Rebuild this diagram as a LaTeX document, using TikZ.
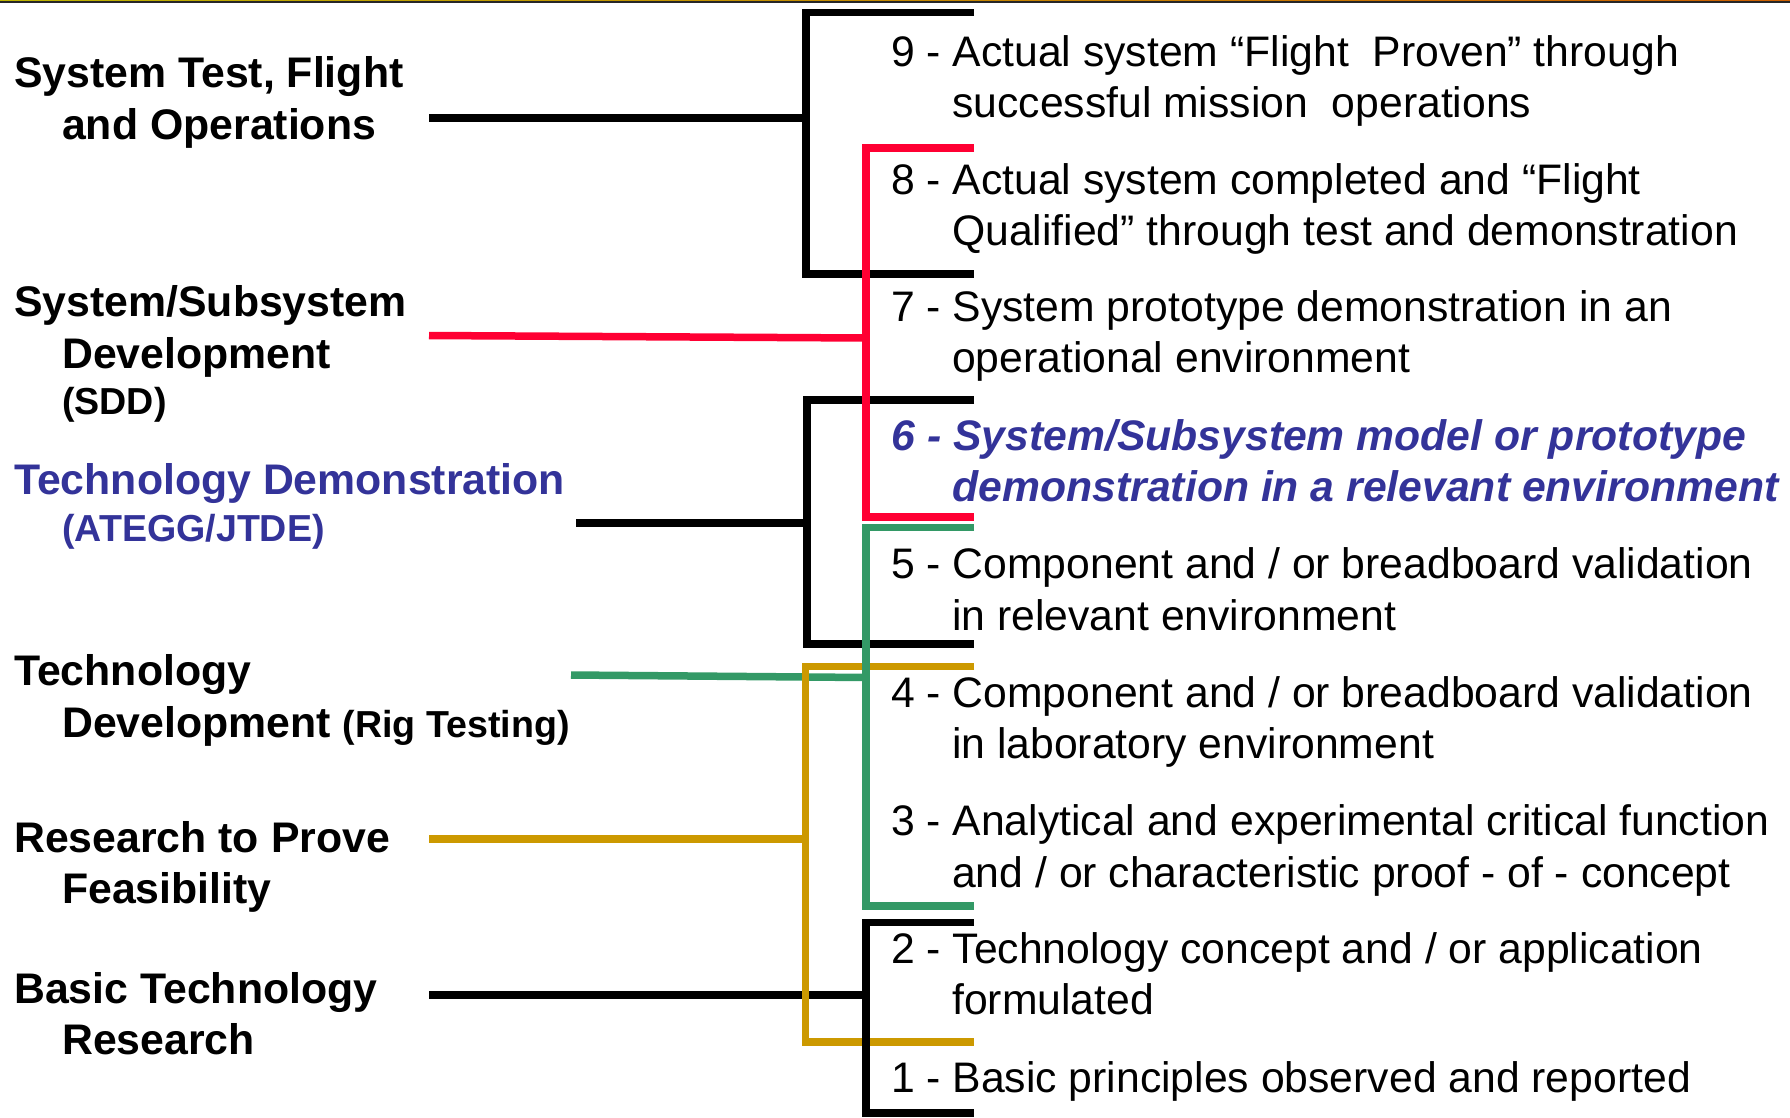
\documentclass[tikz,border=0pt]{standalone}
\usepackage{fontspec}
\setmainfont{Liberation Sans}
\definecolor{trlred}{RGB}{255,0,51}
\definecolor{trlgreen}{RGB}{51,153,102}
\definecolor{trlyellow}{RGB}{204,153,0}
\definecolor{trlblue}{RGB}{51,51,153}
\definecolor{topolive}{RGB}{190,180,0}
\definecolor{toporange}{RGB}{205,95,0}
\begin{document}
\begin{tikzpicture}[x=1pt,y=-1pt,
  lvl/.style={anchor=base west, inner sep=0pt, font=\fontsize{42.7}{50}\selectfont},
  lvlsix/.style={lvl, text=trlblue, font=\fontsize{42.7}{50}\selectfont\bfseries\itshape},
  lab/.style={anchor=base west, inner sep=0pt, font=\fontsize{42.8}{50}\selectfont\bfseries},
  labsmall/.style={lab, font=\fontsize{37.6}{44}\selectfont\bfseries},
  brk/.style={line width=7.5pt, line join=miter, line cap=butt}]
\useasboundingbox (0,0) rectangle (1790,1117);
% top border
\shade[left color=topolive, right color=toporange] (0,0) rectangle (1790,1.4);
\fill[black!85] (0,1.4) rectangle (1790,2.8);

% ---- left labels ----
\node[lab] (l9a) at (14,87.5) {System Test, Flight};
\node[lab] (l9b) at (62,139.3) {and Operations};
\node[lab] (l7a) at (14,316) {System/Subsystem};
\node[lab] (l7b) at (62,368) {Development};
\node[labsmall] (l7c) at (62,414) {(SDD)};
\node[lab, text=trlblue] (l6a) at (14,494.6) {Technology Demonstration};
\node[labsmall, text=trlblue] (l6b) at (62,541) {(ATEGG/JTDE)};
\node[lab] (l4a) at (14,685) {Technology};
\node[lab] (l4b) at (62,737) {Development {\fontsize{37.6}{44}\selectfont(Rig Testing)}};
\node[lab] (l3a) at (14,852.8) {Research to Prove};
\node[lab] (l3b) at (62,903.6) {Feasibility};
\node[lab] (l1a) at (14,1003.7) {Basic Technology};
\node[lab] (l1b) at (62,1054) {Research};

% ---- right levels ----
\node[lvl] (t9a) at (890.8,66) {9 - Actual system “Flight~~Proven” through};
\node[lvl] (t9b) at (952,117) {successful mission~~operations};
\node[lvl] (t8a) at (890.8,194.6) {8 - Actual system completed and “Flight};
\node[lvl] (t8b) at (952,245.7) {Qualified” through test and demonstration};
\node[lvl] (t7a) at (890.8,321) {7 - System prototype demonstration in an};
\node[lvl] (t7b) at (952,372.5) {operational environment};
\node[lvlsix] (t6a) at (891.5,450.7) {6 - System/Subsystem model or prototype};
\node[lvlsix] (t6b) at (952.5,501.8) {demonstration in a relevant environment};
\node[lvl] (t5a) at (890.8,578.6) {5 - Component and / or breadboard validation};
\node[lvl] (t5b) at (952,630.2) {in relevant environment};
\node[lvl] (t4a) at (890.8,707.4) {4 - Component and / or breadboard validation};
\node[lvl] (t4b) at (952,758.2) {in laboratory environment};
\node[lvl] (t3a) at (890.8,835.5) {3 - Analytical and experimental critical function};
\node[lvl] (t3b) at (952,887) {and / or characteristic proof - of - concept};
\node[lvl] (t2a) at (890.8,963.2) {2 - Technology concept and / or application};
\node[lvl] (t2b) at (952,1014.7) {formulated};
\node[lvl] (t1a) at (890.8,1092) {1 - Basic principles observed and reported};

% ---- bracket coordinates ----
\coordinate (aT) at (974,12.5);  \coordinate (aTL) at (806,12.5);
\coordinate (aBL) at (806,274);  \coordinate (aB) at (974,274);
\coordinate (aS) at (429,118);

\coordinate (bT) at (974,400);   \coordinate (bTL) at (807,400);
\coordinate (bBL) at (807,644);  \coordinate (bB) at (974,644);
\coordinate (bS) at (576,523);

\coordinate (rT) at (974,148);   \coordinate (rTL) at (866,148);
\coordinate (rBL) at (866,517);  \coordinate (rB) at (974,517);
\coordinate (rS) at (429,335.5); \coordinate (rE) at (866,338);

\coordinate (gT) at (974,527.5); \coordinate (gTL) at (866,527.5);
\coordinate (gBL) at (866,906);  \coordinate (gB) at (974,906);
\coordinate (gS) at (571,675);   \coordinate (gE) at (866,677.5);

\coordinate (yT) at (974,666.5); \coordinate (yTL) at (805.5,666.5);
\coordinate (yBL) at (805.5,1042); \coordinate (yB) at (974,1042);
\coordinate (yS) at (429,838.8);

\coordinate (cT) at (974,922.7); \coordinate (cTL) at (866,922.7);
\coordinate (cBL) at (866,1113); \coordinate (cB) at (974,1113);
\coordinate (cS) at (429,995);

% ---- brackets (drawing order matters for crossings) ----
\draw[brk] (aT) -- (aTL) -- (aBL) -- (aB);
\draw[brk] (aS) -- (aS -| aTL);
\draw[brk] (bT) -- (bTL) -- (bBL) -- (bB);
\draw[brk] (bS) -- (bS -| bTL);
\draw[brk, trlred] (rS) -- (rE);
\draw[brk, trlred] (rT) -- (rTL) -- (rBL) -- (rB);
\draw[brk, trlgreen] (gS) -- (gE);
\draw[brk] (cS) -- (cS -| cTL);
\draw[brk, trlyellow] (yS) -- (yS -| yTL);
\draw[brk, trlyellow] (yT) -- (yTL) -- (yBL) -- (yB);
\draw[brk, trlgreen] (gT) -- (gTL) -- (gBL) -- (gB);
\draw[brk] (cT) -- (cTL) -- (cBL) -- (cB);
\end{tikzpicture}
\end{document}
